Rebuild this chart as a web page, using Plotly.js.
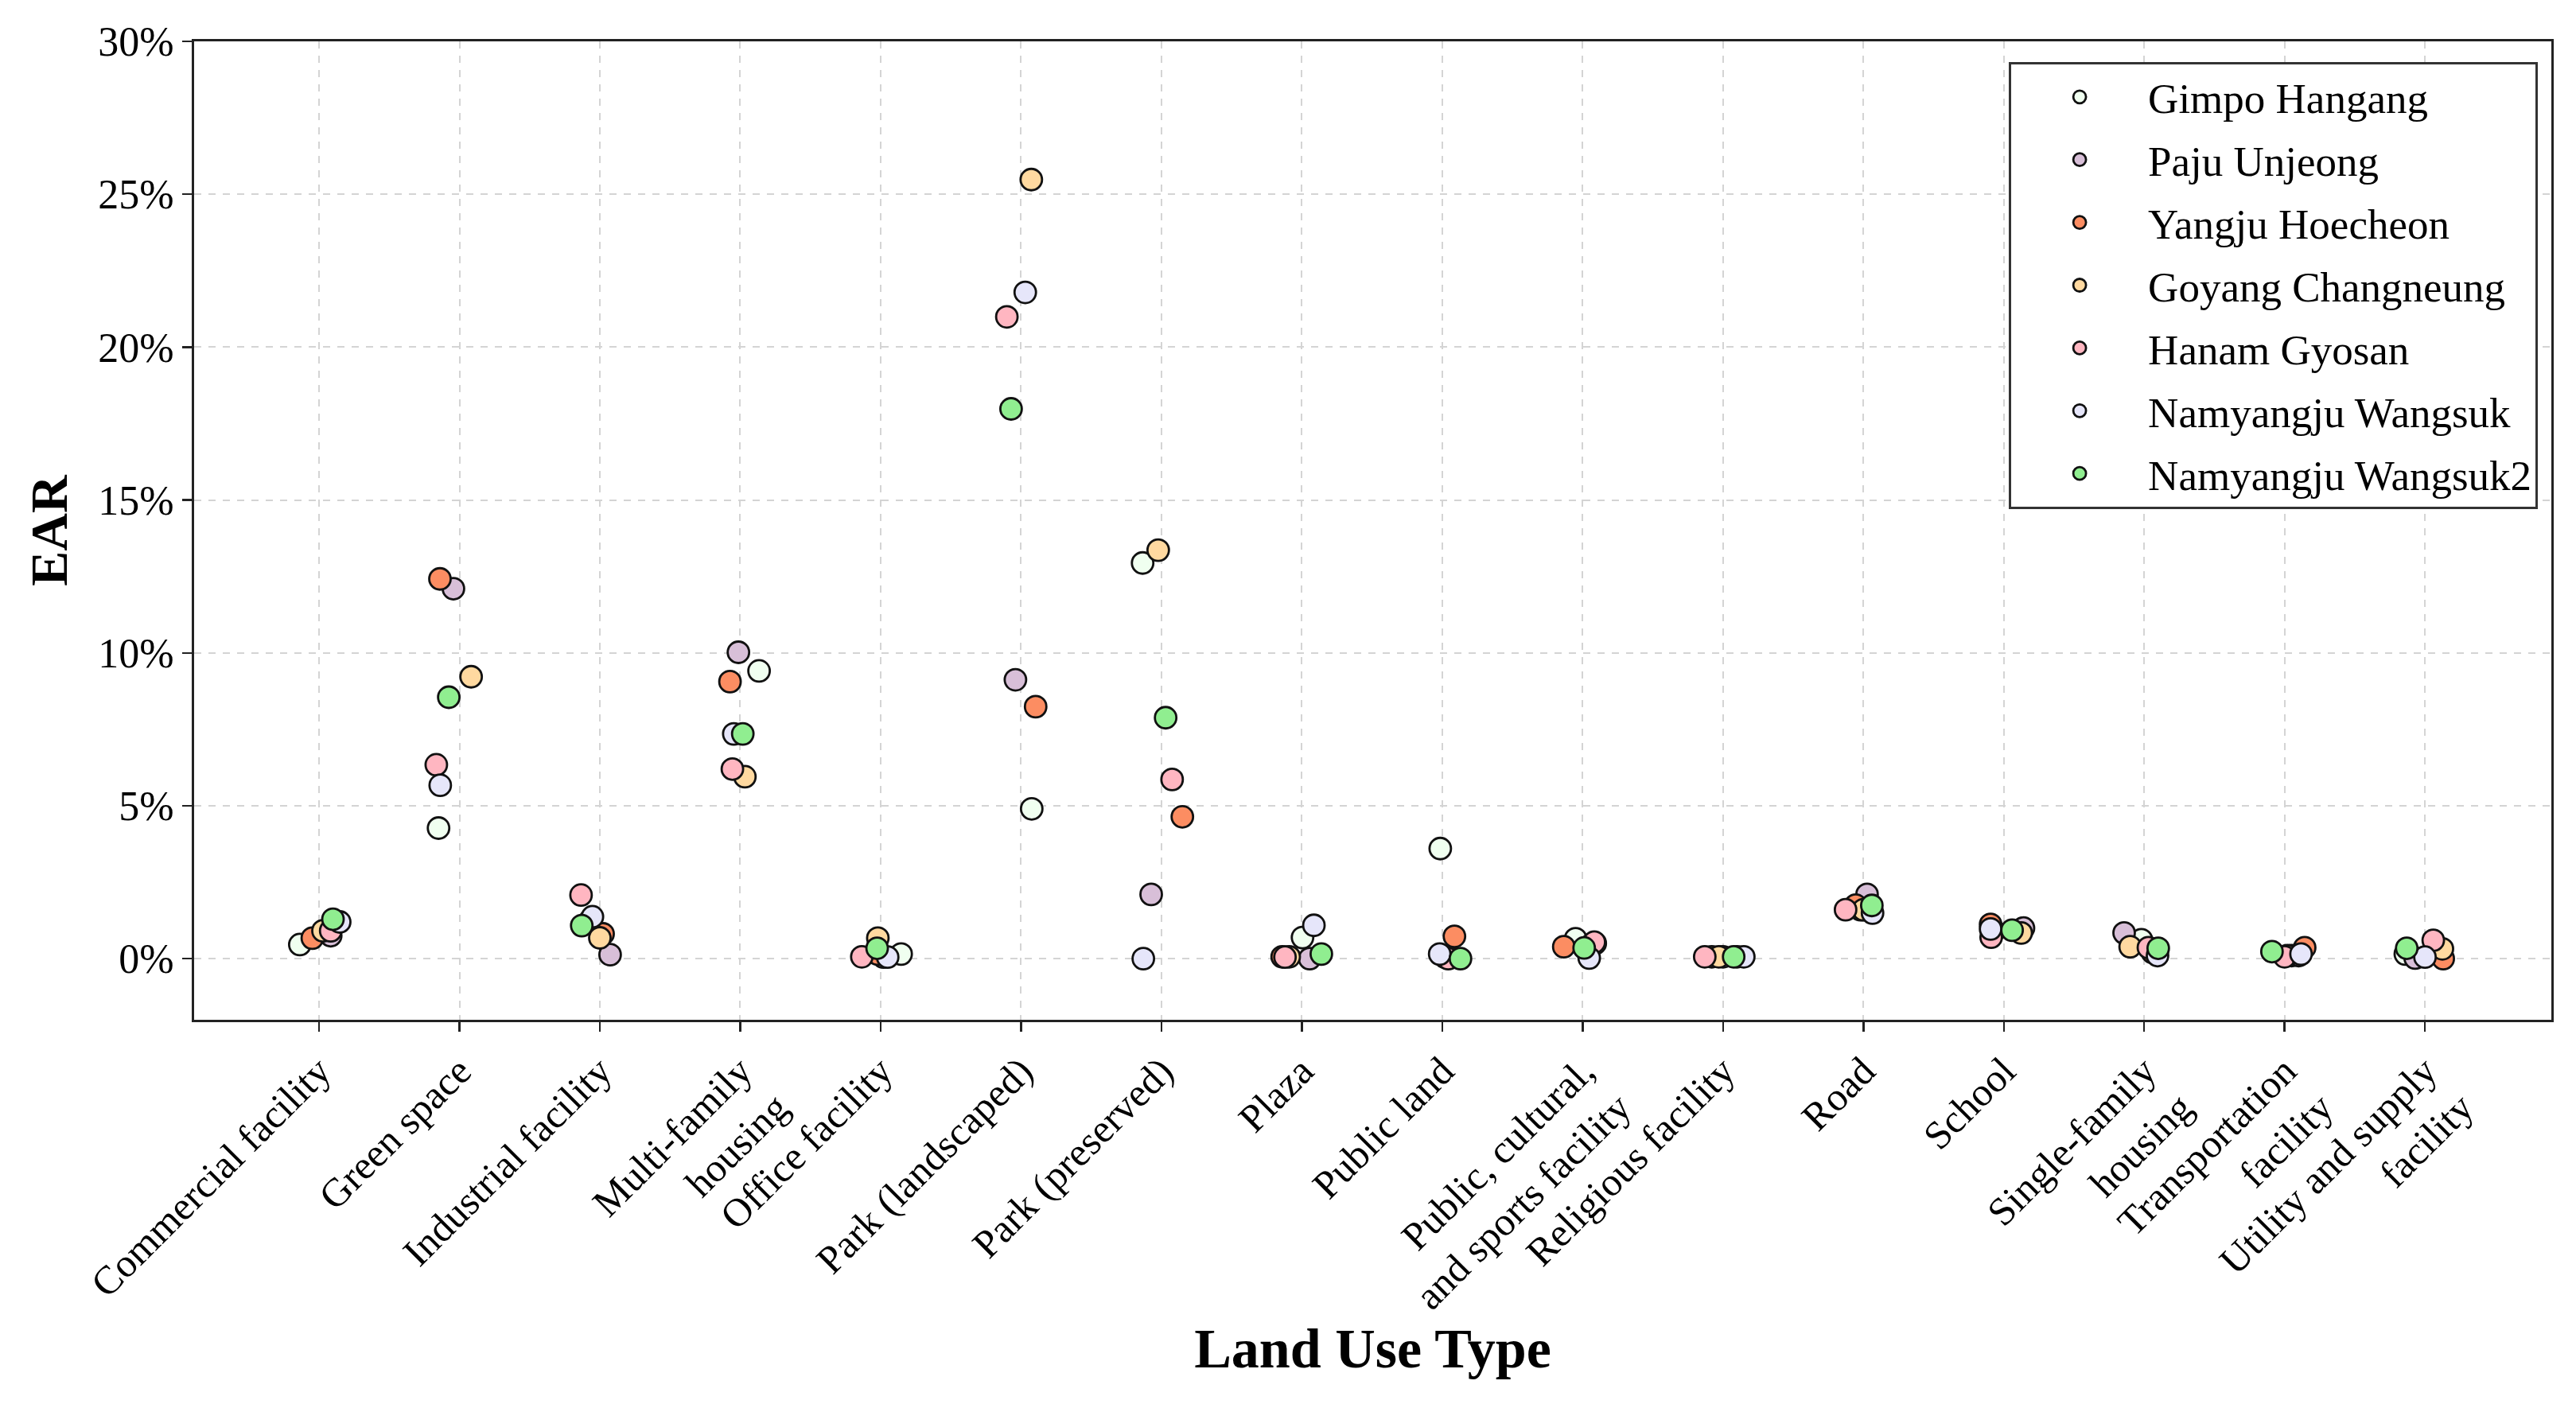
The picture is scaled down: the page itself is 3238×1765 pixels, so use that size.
<!DOCTYPE html>
<html>
<head>
<meta charset="utf-8">
<script src="https://cdn.plot.ly/plotly-3.0.1.min.js"></script>
<style>html,body{margin:0;padding:0;background:#fff;}#chart{width:3238px;height:1765px;}</style>
</head>
<body>
<div id="chart"></div>
<script>
// ---- data (EAR in %) ----
const categories = [
  "Commercial facility", "Green space", "Industrial facility", "Multi-family<br>housing",
  "Office facility", "Park (landscaped)", "Park (preserved)", "Plaza", "Public land",
  "Public, cultural,<br>and sports facility", "Religious facility", "Road", "School",
  "Single-family<br>housing", "Transportation<br>facility", "Utility and supply<br>facility"
];
const seriesNames = ["Gimpo Hangang", "Paju Unjeong", "Yangju Hoecheon", "Goyang Changneung",
  "Hanam Gyosan", "Namyangju Wangsuk", "Namyangju Wangsuk2"];

const gimpoHangang      = [0.46, 4.27, 1.25, 9.41, 0.15, 4.90, 12.94, 0.69, 3.60, 0.65, 0.06, 1.60, 0.90, 0.62, 0.10, 0.15];
const pajuUnjeong       = [0.75, 12.10, 0.13, 10.02, 0.05, 9.12, 2.10, 0.00, 0.05, 0.50, 0.06, 2.10, 1.00, 0.84, 0.10, 0.02];
const yangjuHoecheon    = [0.67, 12.42, 0.81, 9.06, 0.15, 8.24, 4.64, 0.06, 0.73, 0.39, 0.06, 1.75, 1.12, 0.20, 0.36, 0.00];
const goyangChangneung  = [0.91, 9.22, 0.68, 5.95, 0.67, 25.48, 13.36, 0.06, 0.05, 0.45, 0.06, 1.60, 0.84, 0.39, 0.10, 0.32];
const hanamGyosan       = [0.91, 6.34, 2.08, 6.20, 0.06, 20.99, 5.86, 0.05, 0.00, 0.54, 0.06, 1.60, 0.70, 0.36, 0.06, 0.60];
const namyangjuWangsuk  = [1.20, 5.67, 1.37, 7.35, 0.05, 21.79, 0.00, 1.09, 0.15, 0.02, 0.06, 1.49, 0.97, 0.10, 0.15, 0.05];
const namyangjuWangsuk2 = [1.29, 8.55, 1.08, 7.35, 0.34, 17.98, 7.88, 0.15, 0.00, 0.35, 0.06, 1.74, 0.93, 0.34, 0.23, 0.34];

// strip-plot jitter (category units)
const jitterGimpo     = [-0.137, -0.149, -0.07, 0.134, 0.146, 0.076, -0.134, 0.005, -0.014, -0.05, 0.0, -0.02, -0.07, -0.02, 0.05, -0.14];
const jitterPaju      = [0.083, -0.043, 0.073, -0.013, 0.02, -0.04, -0.073, 0.056, 0.05, 0.09, 0.1, 0.026, 0.14, -0.143, 0.1, -0.07];
const jitterYangju    = [-0.048, -0.139, 0.023, -0.073, -0.02, 0.104, 0.149, -0.14, 0.087, -0.134, -0.08, -0.055, -0.094, 0.06, 0.143, 0.13];
const jitterGoyang    = [0.028, 0.083, 0.0, 0.033, -0.02, 0.073, -0.023, -0.09, 0.02, 0.06, -0.03, 0.0, 0.124, -0.1, 0.02, 0.124];
const jitterHanam     = [0.083, -0.165, -0.134, -0.056, -0.134, -0.101, 0.076, -0.12, 0.043, 0.083, -0.13, -0.127, -0.09, 0.03, 0.0, 0.059];
const jitterWangsuk   = [0.147, -0.137, -0.053, -0.046, 0.05, 0.03, -0.129, 0.086, -0.018, 0.047, 0.148, 0.065, -0.094, 0.095, 0.117, 0.0];
const jitterWangsuk2  = [0.099, -0.076, -0.129, 0.018, -0.025, -0.071, 0.03, 0.139, 0.13, 0.011, 0.076, 0.06, 0.059, 0.1, -0.09, -0.13];

const yTicks = [0, 5, 10, 15, 20, 25, 30];
const yTickLabels = ["0%", "5%", "10%", "15%", "20%", "25%", "30%"];

// ---- styling ----
const colors = ["#F0FFF0", "#D8BFD8", "#FC8D62", "#FFD9A0", "#FFB6C1", "#E6E6FA", "#90EE90"];
const allValues = [gimpoHangang, pajuUnjeong, yangjuHoecheon, goyangChangneung, hanamGyosan, namyangjuWangsuk, namyangjuWangsuk2];
const allJitter = [jitterGimpo, jitterPaju, jitterYangju, jitterGoyang, jitterHanam, jitterWangsuk, jitterWangsuk2];
const FONT = "Liberation Serif, Times New Roman, serif";

const traces = seriesNames.map((name, s) => ({
  type: "scatter",
  mode: "markers",
  name: name,
  legendgroup: "g" + s,
  x: allValues[s].map((v, i) => i + allJitter[s][i]),
  y: allValues[s],
  marker: { size: 27, color: colors[s], line: { color: "#111", width: 2.8 } },
  hoverinfo: "name+y"
}));

const layout = {
  width: 3238, height: 1765,
  margin: { l: 244, r: 31, t: 52, b: 483 },
  paper_bgcolor: "#fff", plot_bgcolor: "#fff",
  font: { family: FONT, color: "#000", size: 50 },
  showlegend: true,
  legend: {
    x: 0.9943, xanchor: "right", y: 0.979, yanchor: "top",
    bgcolor: "#fff", bordercolor: "#333", borderwidth: 3,
    font: { family: FONT, size: 53, color: "#000" },
    traceorder: "grouped", tracegroupgap: 7, itemwidth: 162
  },
  xaxis: {
    type: "linear", range: [-0.89, 15.9],
    tickmode: "array", tickvals: categories.map((c, i) => i), ticktext: categories,
    tickangle: -45, tickfont: { family: FONT, size: 50, color: "#000" },
    ticks: "outside", ticklen: 12, tickwidth: 2.5, tickcolor: "#222",
    showline: true, mirror: true, linecolor: "#222", linewidth: 3,
    showgrid: true, gridcolor: "#d4d4d4", gridwidth: 2, griddash: "dash",
    zeroline: false,
    title: { text: "<b>Land Use Type</b>", font: { family: FONT, size: 70, color: "#000" }, standoff: 4 }
  },
  yaxis: {
    range: [-2, 30],
    tickmode: "array", tickvals: yTicks, ticktext: yTickLabels,
    tickfont: { family: FONT, size: 52, color: "#000" },
    ticks: "outside", ticklen: 12, tickwidth: 2.5, tickcolor: "#222",
    showline: true, mirror: true, linecolor: "#222", linewidth: 3,
    showgrid: true, gridcolor: "#d4d4d4", gridwidth: 2, griddash: "dash",
    zeroline: false,
    title: { text: "<b>EAR</b>", font: { family: FONT, size: 66, color: "#000" }, standoff: 18 }
  }
};

Plotly.newPlot("chart", traces, layout, { displayModeBar: false, staticPlot: true });
</script>
</body>
</html>
